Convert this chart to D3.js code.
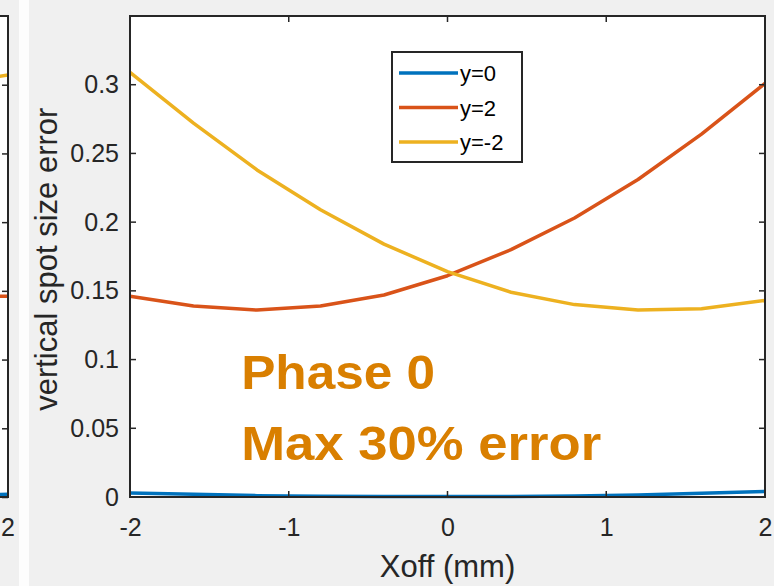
<!DOCTYPE html>
<html>
<head>
<meta charset="utf-8">
<script src="https://cdn.jsdelivr.net/npm/d3@7"></script>
<style>
  body { margin: 0; background: #f0f0f0; }
  svg { display: block; font-family: "Liberation Sans", Arial, sans-serif; }
</style>
</head>
<body>
<svg id="chart"></svg>
<script>
// data
var xoff = [-2, -1.6, -1.2, -0.8, -0.4, 0, 0.4, 0.8, 1.2, 1.6, 2];
var errY0 = [0.003, 0.002, 0.001, 0.0005, 0.0003, 0.0003, 0.0004, 0.0008, 0.0015, 0.0028, 0.004];
var errY2 = [0.146, 0.139, 0.136, 0.139, 0.147, 0.161, 0.180, 0.203, 0.231, 0.264, 0.301];
var errYm2 = [0.309, 0.272, 0.238, 0.209, 0.184, 0.164, 0.149, 0.140, 0.136, 0.137, 0.143];
var seriesNames = ['y=0', 'y=2', 'y=-2'];
var seriesColors = ['#0072bd', '#d95319', '#edb120'];

// right edge of the neighbouring (cut off) panel
var leftX = [1.6, 2];
var leftY0 = [0.001, 0.002];
var leftY2 = [0.146, 0.146];
var leftYm2 = [0.300, 0.307];

var xTicks = [-2, -1, 0, 1, 2];
var yTicks = [0, 0.05, 0.1, 0.15, 0.2, 0.25, 0.3];

var notes = [
  {text: 'Phase 0', x: -1.3, y: 0.0786, len: 194},
  {text: 'Max 30% error', x: -1.3, y: 0.027, len: 360}
];

var width = 774;
var height = 586;
var axisColor = '#262626';
var fmt = d => String(d);

var svg = d3.select('#chart')
  .attr('width', width)
  .attr('height', height);

// white gap between the two figure panels
svg.append('rect')
  .attr('x', 19).attr('y', 0)
  .attr('width', 10).attr('height', height)
  .attr('fill', '#fdfdfd');

var yScale = d3.scaleLinear()
  .domain([0, 0.35])
  .range([497, 16]);

var xScale = d3.scaleLinear()
  .domain([-2, 2])
  .range([130, 765]);

// partial neighbouring panel, only its right edge shows
var xLeft = d3.scaleLinear()
  .domain([-2, 2])
  .range([8 - 635, 8]);

var leftG = svg.append('g');
leftG.append('defs').append('clipPath').attr('id', 'clipL')
  .append('rect').attr('x', 0).attr('y', 16).attr('width', 8).attr('height', 481);
leftG.append('rect')
  .attr('x', 0).attr('y', 16).attr('width', 8).attr('height', 481)
  .attr('fill', 'white');

var lineL = d3.line()
  .x((d, i) => xLeft(leftX[i]))
  .y(d => yScale(d));

leftG.selectAll('path.left-series')
  .data([leftY0, leftY2, leftYm2])
  .enter()
  .append('path')
    .attr('class', 'left-series')
    .attr('d', lineL)
    .attr('fill', 'none')
    .attr('stroke', (d, i) => seriesColors[i])
    .attr('stroke-width', 3.5)
    .attr('clip-path', 'url(#clipL)');

leftG.append('g')
  .attr('transform', 'translate(8,0)')
  .call(d3.axisRight(yScale).tickValues(yTicks).tickSize(-6).tickFormat(''))
  .call(g => g.select('.domain').remove())
  .call(g => g.selectAll('line').attr('stroke', axisColor).attr('stroke-width', 1.5));

leftG.append('path')
  .attr('d', 'M0,16H8V497H0')
  .attr('fill', 'none')
  .attr('stroke', axisColor)
  .attr('stroke-width', 2);

leftG.append('text')
  .attr('x', xLeft(2))
  .attr('y', 536)
  .attr('text-anchor', 'middle')
  .attr('font-size', 25)
  .attr('fill', axisColor)
  .text('2');

// main axes
svg.append('rect')
  .attr('x', 130).attr('y', 16)
  .attr('width', 635).attr('height', 481)
  .attr('fill', 'white');

var line = d3.line()
  .x((d, i) => xScale(xoff[i]))
  .y(d => yScale(d));

svg.selectAll('path.series')
  .data([errY0, errY2, errYm2])
  .enter()
  .append('path')
    .attr('class', 'series')
    .attr('d', line)
    .attr('fill', 'none')
    .attr('stroke', (d, i) => seriesColors[i])
    .attr('stroke-width', 3.5)
    .attr('stroke-linejoin', 'round');

var xAxis = d3.axisBottom(xScale).tickValues(xTicks).tickFormat(fmt).tickSize(0).tickPadding(21);
var yAxis = d3.axisLeft(yScale).tickValues(yTicks).tickFormat(fmt).tickSize(0).tickPadding(11);

svg.append('g')
  .attr('transform', 'translate(0,497)')
  .call(xAxis)
  .call(g => g.select('.domain').remove())
  .call(g => g.selectAll('text').attr('font-size', 25).attr('fill', axisColor).attr('font-family', null));

svg.append('g')
  .attr('transform', 'translate(130,0)')
  .call(yAxis)
  .call(g => g.select('.domain').remove())
  .call(g => g.selectAll('text').attr('font-size', 25).attr('fill', axisColor).attr('font-family', null));

// inward ticks on all four sides
var tickLen = 6;
var ticks = svg.append('g').attr('stroke', axisColor).attr('stroke-width', 1.5);
xTicks.forEach(function (t) {
  ticks.append('line').attr('x1', xScale(t)).attr('x2', xScale(t)).attr('y1', 497).attr('y2', 497 - tickLen);
  ticks.append('line').attr('x1', xScale(t)).attr('x2', xScale(t)).attr('y1', 16).attr('y2', 16 + tickLen);
});
yTicks.forEach(function (t) {
  ticks.append('line').attr('x1', 130).attr('x2', 130 + tickLen).attr('y1', yScale(t)).attr('y2', yScale(t));
  ticks.append('line').attr('x1', 765).attr('x2', 765 - tickLen).attr('y1', yScale(t)).attr('y2', yScale(t));
});

svg.append('rect')
  .attr('x', 130).attr('y', 16)
  .attr('width', 635).attr('height', 481)
  .attr('fill', 'none')
  .attr('stroke', axisColor)
  .attr('stroke-width', 2);

// axis labels
svg.append('text')
  .attr('x', xScale(0))
  .attr('y', 577)
  .attr('text-anchor', 'middle')
  .attr('font-size', 31)
  .attr('fill', axisColor)
  .text('Xoff (mm)');

svg.append('text')
  .attr('transform', 'translate(57,' + yScale(0.173) + ') rotate(-90)')
  .attr('text-anchor', 'middle')
  .attr('font-size', 31)
  .attr('fill', axisColor)
  .text('vertical spot size error');

// legend
var legend = svg.append('g').attr('transform', 'translate(392,52)');
legend.append('rect')
  .attr('width', 130).attr('height', 110)
  .attr('fill', 'white')
  .attr('stroke', axisColor)
  .attr('stroke-width', 2);

var items = legend.selectAll('g.item')
  .data(seriesNames)
  .enter()
  .append('g')
    .attr('class', 'item')
    .attr('transform', (d, i) => 'translate(0,' + (21 + i * 34.5) + ')');

items.append('line')
  .attr('x1', 7).attr('x2', 66)
  .attr('stroke', (d, i) => seriesColors[i])
  .attr('stroke-width', 3.5);

items.append('text')
  .attr('x', 68)
  .attr('y', 8)
  .attr('font-size', 22)
  .attr('fill', '#000')
  .text(d => d);

// annotation
svg.selectAll('text.note')
  .data(notes)
  .enter()
  .append('text')
    .attr('class', 'note')
    .attr('x', d => xScale(d.x))
    .attr('y', d => yScale(d.y))
    .attr('font-size', 49)
    .attr('font-weight', 'bold')
    .attr('fill', '#d97f00')
    .attr('textLength', d => d.len)
    .attr('lengthAdjust', 'spacingAndGlyphs')
    .text(d => d.text);
</script>
</body>
</html>
